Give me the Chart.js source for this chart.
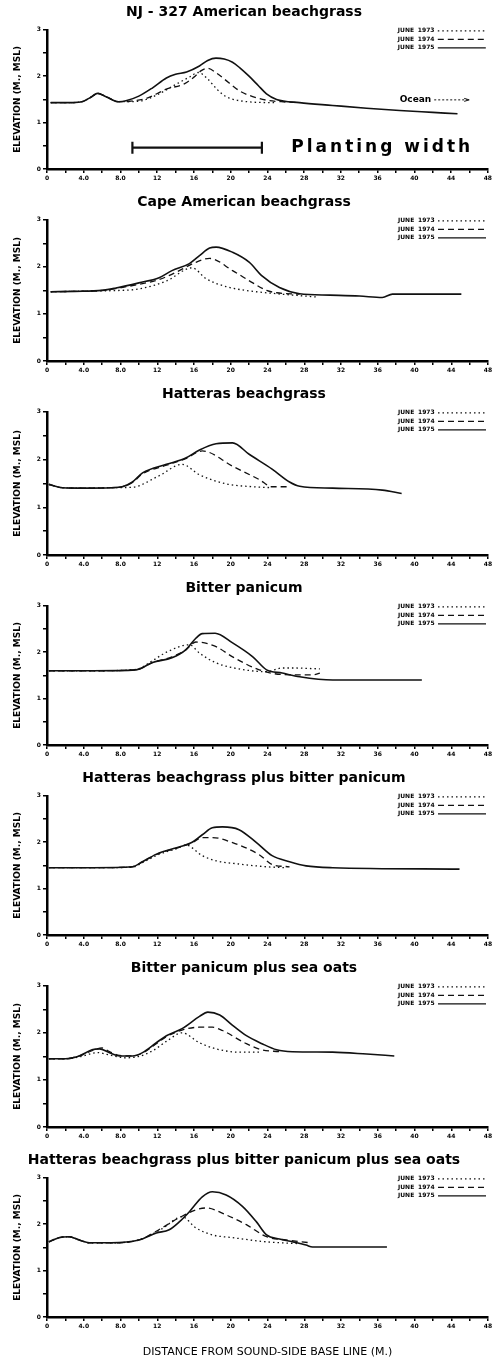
<!DOCTYPE html>
<html>
<head>
<meta charset="utf-8">
<script src="https://cdn.jsdelivr.net/npm/chart.js@4.4.0/dist/chart.umd.min.js"></script>
<style>
  body { margin: 0; background: #fff; }
  .panel { position: relative; width: 496px; }
</style>
</head>
<body>
<div id="wrap"></div>
<script>
// ---- data (distance m, elevation m MSL) ----
const xTickLabels = ['0', '4.0', '8.0', '12', '16', '20', '24', '28', '32', '36', '40', '44', '48'];
const yTickLabels = ['0', '1', '2', '3'];
const yearLabels = ['JUNE 1973', 'JUNE 1974', 'JUNE 1975'];
const panelTitles = [
  'NJ - 327 American beachgrass',
  'Cape American beachgrass',
  'Hatteras beachgrass',
  'Bitter panicum',
  'Hatteras beachgrass plus bitter panicum',
  'Bitter panicum plus sea oats',
  'Hatteras beachgrass plus bitter panicum plus sea oats'
];

const nj1973 = [[0.4,1.43],[2,1.43],[3.8,1.45],[4.8,1.55],[5.5,1.63],[6.5,1.55],[7.8,1.45],[9,1.45],[10.5,1.48],[12,1.6],[14,1.82],[15.5,1.98],[16.5,2.08],[17.5,1.94],[18.5,1.72],[19.5,1.56],[20.5,1.49],[22.5,1.44],[25,1.43]];
const nj1974 = [[0.4,1.43],[2,1.43],[3.8,1.45],[4.8,1.55],[5.5,1.63],[6.5,1.55],[7.8,1.45],[9,1.46],[10.8,1.52],[13,1.72],[15,1.84],[16,1.98],[16.8,2.12],[17.5,2.17],[18.5,2.06],[19.8,1.86],[21,1.68],[22.4,1.56],[24,1.48],[25.5,1.45],[27.5,1.43]];
const nj1975 = [[0.4,1.43],[2,1.43],[3.8,1.45],[4.8,1.55],[5.5,1.63],[6.5,1.55],[7.8,1.45],[8.6,1.47],[10,1.57],[11.5,1.75],[13,1.96],[14,2.04],[15.2,2.09],[16.6,2.22],[17.5,2.34],[18.4,2.39],[19.3,2.37],[20.2,2.3],[21,2.18],[22,2.0],[23,1.8],[23.9,1.62],[25,1.5],[27.5,1.43],[31.1,1.37],[34.8,1.31],[38.4,1.26],[42,1.22],[44.7,1.19]];
const plantingWidth = [[9.3,0.46],[23.4,0.46]];

const cape1973 = [[0.4,1.47],[3,1.48],[6,1.49],[8,1.5],[10,1.53],[13,1.7],[15.8,1.98],[17.3,1.75],[19.5,1.58],[22,1.49],[25,1.43],[29.3,1.36]];
const cape1974 = [[0.4,1.47],[3,1.48],[6,1.5],[7.5,1.54],[10,1.63],[12.2,1.73],[14.5,1.93],[16,2.08],[17.7,2.18],[20.2,1.92],[22.4,1.66],[23.9,1.5],[25,1.45],[27.5,1.42]];
const cape1975 = [[0.4,1.47],[3,1.48],[6,1.5],[7.5,1.55],[10,1.66],[12.2,1.77],[13.6,1.92],[15.5,2.07],[16.6,2.24],[17.7,2.4],[18.4,2.42],[20.2,2.31],[22,2.1],[23.4,1.81],[25.3,1.56],[27.5,1.43],[30.8,1.4],[34,1.38],[36.5,1.35],[37.6,1.42],[41,1.42],[45.1,1.42]];

const hat1973 = [[0.2,1.48],[1.7,1.41],[4,1.4],[7,1.41],[9.3,1.42],[12.2,1.66],[14.7,1.9],[16.6,1.68],[19.5,1.49],[22.4,1.43],[24.5,1.41]];
const hat1974 = [[0.2,1.48],[1.7,1.41],[4,1.4],[7,1.41],[8.2,1.43],[9.3,1.52],[10.4,1.7],[13,1.88],[15.1,2.02],[16.9,2.18],[20.2,1.86],[23.1,1.58],[24.5,1.43],[26.4,1.43]];
const hat1975 = [[0.2,1.48],[1.7,1.41],[4,1.4],[7,1.41],[8.2,1.43],[9.3,1.53],[10.4,1.72],[13,1.9],[15.1,2.03],[16.6,2.2],[18.4,2.33],[20.2,2.35],[22,2.11],[24.5,1.8],[26.4,1.53],[27.5,1.44],[31.1,1.4],[36.5,1.36],[38.6,1.29]];

const bp1973 = [[0.2,1.6],[5,1.6],[9.7,1.63],[11.5,1.82],[13,2.0],[15.5,2.16],[16.6,1.98],[18.4,1.77],[20.9,1.64],[23.9,1.58],[25.6,1.66],[26.8,1.66],[29.7,1.64]];
const bp1974 = [[0.2,1.6],[5,1.6],[9.7,1.62],[11.5,1.78],[13.6,1.9],[15.1,2.05],[16.2,2.22],[18.4,2.12],[20.2,1.9],[23.1,1.62],[25.6,1.52],[28.9,1.51],[29.7,1.55]];
const bp1975 = [[0.2,1.6],[5,1.6],[9.7,1.62],[11.5,1.78],[13.6,1.88],[15.1,2.05],[16.2,2.3],[16.9,2.4],[18.3,2.41],[20.2,2.2],[22.4,1.9],[23.9,1.62],[25.6,1.55],[27.5,1.47],[31.1,1.4],[40.8,1.4]];

const hb1973 = [[0.2,1.45],[5,1.45],[9.3,1.46],[10.4,1.56],[12.2,1.74],[14.1,1.86],[15.1,1.94],[16.9,1.71],[18.4,1.6],[20.9,1.53],[23.9,1.47],[26,1.45]];
const hb1974 = [[0.2,1.45],[5,1.45],[9.3,1.47],[10.4,1.58],[12.2,1.76],[14.1,1.87],[15.8,1.99],[16.9,2.1],[18,2.1],[20.2,1.99],[23.1,1.73],[24.5,1.52],[26.4,1.47]];
const hb1975 = [[0.2,1.45],[5,1.45],[9.3,1.47],[10.4,1.58],[12.2,1.77],[14.1,1.88],[15.8,2.0],[16.9,2.16],[18,2.31],[19.1,2.33],[20.9,2.27],[22.8,1.99],[24.5,1.71],[26.4,1.58],[28.2,1.49],[31.1,1.45],[44.9,1.42]];

const bs1973 = [[0.2,1.45],[2,1.45],[3.5,1.49],[5.5,1.58],[7,1.52],[8.6,1.47],[10,1.5],[11.5,1.62],[13,1.82],[14.7,2.0],[16.6,1.79],[18.4,1.66],[20.9,1.59],[23.4,1.59]];
const bs1974 = [[0.2,1.45],[2,1.45],[3.5,1.51],[4.9,1.62],[6,1.68],[6.8,1.6],[7.9,1.52],[9.3,1.51],[10.4,1.57],[11.9,1.77],[13,1.92],[14.7,2.06],[16.6,2.12],[18,2.12],[19.1,2.05],[21.7,1.77],[23.4,1.64],[25.3,1.6]];
const bs1975 = [[0.2,1.45],[2,1.45],[3.5,1.51],[4.9,1.64],[5.7,1.66],[6.8,1.58],[7.9,1.51],[9.3,1.51],[10.4,1.58],[11.9,1.79],[13,1.94],[14.7,2.09],[16.6,2.35],[17.5,2.44],[18.8,2.38],[20.2,2.16],[21.7,1.94],[23.4,1.77],[25,1.64],[26.7,1.6],[31.1,1.59],[34.8,1.55],[37.8,1.51]];

const hbs1973 = [[0.2,1.62],[1.3,1.71],[2.4,1.73],[3.5,1.66],[4.6,1.6],[7,1.6],[10,1.66],[12.5,1.9],[14.7,2.16],[16.2,1.92],[18,1.77],[20.2,1.71],[23.9,1.62],[27.5,1.58]];
const hbs1974 = [[0.2,1.62],[1.3,1.71],[2.4,1.73],[3.5,1.66],[4.6,1.6],[7,1.6],[10,1.66],[12.5,1.92],[14.4,2.14],[16.2,2.31],[17.3,2.35],[19.5,2.2],[21.7,1.99],[23.9,1.73],[26,1.66],[28.6,1.6]];
const hbs1975 = [[0.2,1.62],[1.3,1.71],[2.4,1.73],[3.5,1.66],[4.6,1.6],[7,1.6],[10,1.66],[11.9,1.81],[13.3,1.88],[14.4,2.05],[15.5,2.27],[16.9,2.59],[18,2.7],[19.5,2.63],[21.3,2.38],[22.8,2.05],[23.9,1.77],[25.3,1.68],[26.7,1.62],[28.2,1.55],[28.9,1.51],[37,1.51]];

const panelSeries = [
  [nj1973, nj1974, nj1975],
  [cape1973, cape1974, cape1975],
  [hat1973, hat1974, hat1975],
  [bp1973, bp1974, bp1975],
  [hb1973, hb1974, hb1975],
  [bs1973, bs1974, bs1975],
  [hbs1973, hbs1974, hbs1975]
];
const panelHeights = [190, 192, 194, 190, 190, 192, 216];

const INK = '#111';
const dashes = [[1.5, 3], [6, 4], []];

function toPts(arr) { return arr.map(p => ({x: p[0], y: p[1]})); }

// legend, ocean label, planting-width text
const extrasPlugin = {
  id: 'extras',
  afterDatasetsDraw(chart) {
    const ctx = chart.ctx;
    const area = chart.chartArea;
    const xs = chart.scales.x, ys = chart.scales.y;
    ctx.save();
    ctx.fillStyle = '#000';
    ctx.strokeStyle = INK;
    ctx.textBaseline = 'middle';
    ctx.font = 'bold 6px "DejaVu Sans"';
    chart.data.datasets.forEach(ds => {
      if (ds.legendRow === undefined) return;
      const y = area.top + 1 + ds.legendRow * 8.5;
      const parts = ds.label.split(' ');
      ctx.fillText(parts[0], area.right - 90, y);
      ctx.fillText(parts[1], area.right - 70, y);
      ctx.lineWidth = 1.2;
      ctx.setLineDash(ds.borderDash || []);
      ctx.beginPath();
      ctx.moveTo(area.right - 50, y);
      ctx.lineTo(area.right - 2, y);
      ctx.stroke();
    });
    ctx.setLineDash([]);
    const ex = chart.options.plugins.extras || {};
    if (ex.ocean) {
      const px = xs.getPixelForValue(ex.ocean[0]);
      const py = ys.getPixelForValue(ex.ocean[1]);
      ctx.font = 'bold 9px "DejaVu Sans"';
      ctx.fillText('Ocean', px, py);
      const w = ctx.measureText('Ocean').width;
      ctx.lineWidth = 1;
      ctx.setLineDash([2, 2]);
      ctx.beginPath();
      ctx.moveTo(px + w + 3, py);
      ctx.lineTo(px + w + 36, py);
      ctx.stroke();
      ctx.setLineDash([]);
      ctx.beginPath();
      ctx.moveTo(px + w + 33, py - 1.5);
      ctx.lineTo(px + w + 38, py);
      ctx.lineTo(px + w + 33, py + 1.5);
      ctx.stroke();
    }
    if (ex.planting) {
      const px = xs.getPixelForValue(ex.planting[0]);
      const py = ys.getPixelForValue(ex.planting[1]);
      ctx.font = 'bold 17px "DejaVu Sans"';
      if ('letterSpacing' in ctx) ctx.letterSpacing = '3px';
      ctx.fillText('Planting width', px, py);
    }
    ctx.restore();
  }
};

const wrap = document.getElementById('wrap');
panelTitles.forEach((title, i) => {
  const div = document.createElement('div');
  div.className = 'panel';
  div.style.height = panelHeights[i] + 'px';
  const canvas = document.createElement('canvas');
  div.appendChild(canvas);
  wrap.appendChild(div);

  const isLast = i === panelTitles.length - 1;
  const datasets = panelSeries[i].map((s, k) => ({
    label: yearLabels[k],
    data: toPts(s),
    borderColor: INK,
    borderWidth: k === 2 ? 1.6 : 1.3,
    borderDash: dashes[k],
    pointRadius: 0,
    cubicInterpolationMode: 'monotone',
    fill: false,
    legendRow: k
  }));
  if (i === 0) {
    datasets.push({
      label: 'Planting width',
      data: toPts(plantingWidth),
      borderColor: INK,
      borderWidth: 2.2,
      pointStyle: 'line',
      pointRotation: 90,
      pointRadius: 6,
      pointBorderWidth: 2.2,
      pointBorderColor: INK
    });
  }

  new Chart(canvas, {
    type: 'line',
    data: { datasets: datasets },
    options: {
      responsive: true,
      maintainAspectRatio: false,
      animation: false,
      layout: { padding: { left: 0, right: 8, top: 0, bottom: 0 } },
      plugins: {
        legend: { display: false },
        tooltip: { enabled: false },
        title: {
          display: true,
          text: title,
          color: '#000',
          font: { family: 'DejaVu Sans', size: 14, weight: 'bold' },
          padding: { top: 4, bottom: 9 }
        },
        extras: i === 0 ? { ocean: [38.4, 1.49], planting: [26.6, 0.46] } : {}
      },
      scales: {
        x: {
          type: 'linear',
          min: 0,
          max: 48,
          afterFit: s => { s.height = isLast ? 47 : 21; },
          border: { display: true, color: '#000', width: 2.5 },
          grid: { drawOnChartArea: false, drawTicks: true, tickLength: 4, color: '#000', lineWidth: 1.5 },
          ticks: {
            stepSize: 2,
            autoSkip: false,
            maxRotation: 0,
            padding: 2,
            color: '#000',
            font: { family: 'DejaVu Sans', size: 6, weight: 'bold' },
            callback: v => (v % 4 === 0 ? xTickLabels[v / 4] : '')
          },
          title: {
            display: isLast,
            text: 'DISTANCE FROM SOUND-SIDE BASE LINE (M.)',
            color: '#000',
            font: { family: 'DejaVu Sans', size: 11 },
            padding: { top: 0, bottom: 5 }
          }
        },
        y: {
          min: 0,
          max: 3,
          afterFit: s => { s.width = 47; },
          border: { display: true, color: '#000', width: 2.5 },
          grid: { drawOnChartArea: false, drawTicks: true, tickLength: 4, color: '#000', lineWidth: 1.5 },
          ticks: {
            stepSize: 0.5,
            autoSkip: false,
            padding: 2,
            color: '#000',
            font: { family: 'DejaVu Sans', size: 6, weight: 'bold' },
            callback: v => (Number.isInteger(v) ? yTickLabels[v] : '')
          },
          title: {
            display: true,
            text: 'ELEVATION (M., MSL)',
            color: '#000',
            font: { family: 'DejaVu Sans', size: 9, weight: 'bold' },
            padding: { top: 12, bottom: 0 }
          }
        }
      }
    },
    plugins: [extrasPlugin]
  });
});
</script>
</body>
</html>
